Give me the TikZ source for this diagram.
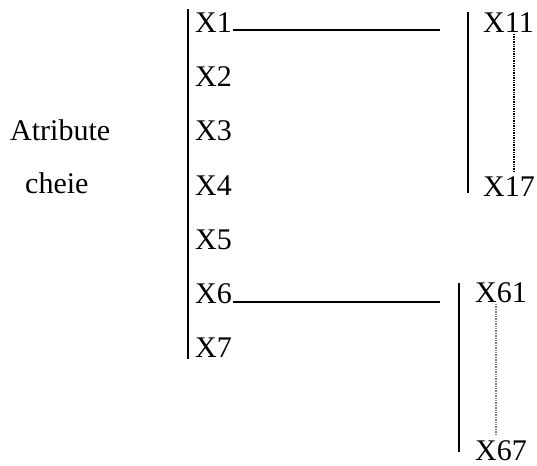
\documentclass[tikz,border=0pt]{standalone}
\usepackage{fontspec}
\setmainfont{Liberation Serif}
\begin{document}
\begin{tikzpicture}[x=1pt,y=-1pt,
  lbl/.style={anchor=base west,inner sep=0pt,font=\fontsize{30}{34}\selectfont},
  bar/.style={line width=2.6pt},
  link/.style={line width=2.6pt},
  dots/.style={line width=2pt,dash pattern=on 1.4pt off 1pt},
  gdots/.style={line width=2pt,dash pattern=on 1.4pt off 1pt,gray}]
\useasboundingbox (0,0) rectangle (537,465);
% main column
\draw[bar] (188,9) -- (188,359);
\node[lbl] (x1) at (195,33) {X1};
\node[lbl] (x2) at (195,87) {X2};
\node[lbl] (x3) at (195,141) {X3};
\node[lbl] (x4) at (195,195) {X4};
\node[lbl] (x5) at (195,249) {X5};
\node[lbl] (x6) at (195,303) {X6};
\node[lbl] (x7) at (195,357) {X7};
\node[lbl] (atr) at (10,140) {Atribute};
\node[lbl] (ch) at (25,193) {cheie};
% first group
\coordinate (e1) at (440,30);
\draw[link] (x1.base east) ++(1,-3) -- (e1);
\draw[bar] (468,12) -- (468,193);
\node[lbl] (x11) at (483,33) {X11};
\node[lbl] (x17) at (483,196) {X17};
\coordinate (d1a) at (514,34);
\coordinate (d1b) at (514,171);
\draw[dots] (d1a) -- (d1b);
% second group
\coordinate (e6) at (440,302);
\draw[link] (x6.base east) ++(1,-1) -- (e6);
\draw[bar] (459,283) -- (459,452);
\node[lbl] (x61) at (475,302) {X61};
\node[lbl] (x67) at (475,460) {X67};
\coordinate (d6a) at (496,304);
\coordinate (d6b) at (496,434);
\draw[gdots] (d6a) -- (d6b);
\end{tikzpicture}
\end{document}
